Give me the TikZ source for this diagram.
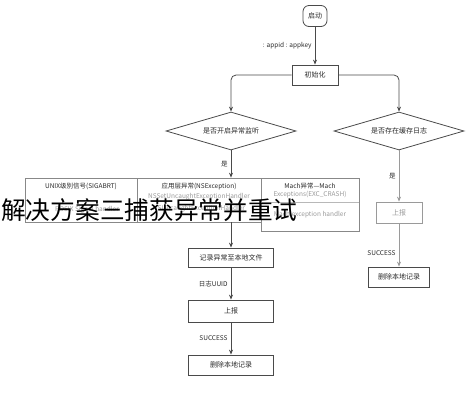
\documentclass[tikz,border=0pt]{standalone}
\usepackage{fontspec}
\setmainfont{Noto Sans CJK SC}
\usetikzlibrary{shapes.geometric,arrows.meta}
\definecolor{lc}{HTML}{4A4A4A}
\definecolor{tc}{HTML}{2A2A2A}
\definecolor{gc}{HTML}{9A9A9A}
\definecolor{sc}{HTML}{888888}
\begin{document}
\begin{tikzpicture}[x=1pt,y=-1pt,
  box/.style={draw=lc, line width=0.8pt, minimum width=85pt, minimum height=20pt, inner sep=1pt, font=\fontsize{7}{8}\selectfont, text=tc},
  dia/.style={diamond, aspect=3.4, draw=lc, line width=0.8pt, minimum width=130pt, minimum height=38pt, inner sep=1pt, font=\fontsize{7}{8}\selectfont, text=tc},
  colbox/.style={draw=sc, line width=0.7pt, inner sep=0pt},
  hd/.style={font=\fontsize{6.5}{7}\selectfont, text=tc, inner sep=0pt},
  sub/.style={font=\fontsize{6.5}{7}\selectfont, text=gc, inner sep=0pt},
  conn/.style={draw=lc, line width=0.8pt, -{Stealth[length=5pt,width=4pt]}},
  gconn/.style={draw=gc, line width=0.8pt, -{Stealth[length=5pt,width=4pt]}},
  elab/.style={font=\fontsize{6.5}{7}\selectfont, text=tc, inner sep=3pt}]
\fill[white] (0,0) rectangle (468,400);
\useasboundingbox (0,0) rectangle (468,400);

\node[box, rounded corners=6pt, minimum width=24pt, minimum height=21pt] (start) at (315,16) {启动};
\node[box, minimum width=46pt, minimum height=20pt] (init) at (315,75) {初始化};
\node[dia] (ldia) at (231,131) {是否开启异常监听};
\node[dia] (rdia) at (399,131) {是否存在缓存日志};

% three capture columns
\node[colbox, minimum width=112pt, minimum height=44pt] (c1) at (81,200) {};
\node[colbox, minimum width=124pt, minimum height=44pt] (c2) at (199,200) {};
\node[colbox, minimum width=98pt, minimum height=53pt] (c3) at (310,204.5) {};
\draw[draw=sc!60, line width=0.5pt] (c3.west |- 0,202) -- (c3.east |- 0,202);
\node[hd] (t1a) at (81,186) {UNIX级别信号(SIGABRT)};
\node[sub] (t1b) at (87,210) {POSIX Signal handler};
\node[hd] (t2a) at (199,186) {应用层异常(NSException)};
\node[sub] (t2b) at (199,197) {NSSetUncaughtExceptionHandler};
\node[sub] (t2c) at (199,209) {NSUncaughtExceptionHandler};
\node[hd] (t3a) at (310,186) {Mach异常—Mach};
\node[sub] (t3b) at (310,195) {Exceptions(EXC\_CRASH)};
\node[sub] (t3c) at (310,215) {Mach exception handler};

\node[box, minimum height=19pt] (rec) at (231,257.5) {记录异常至本地文件};
\node[box, minimum height=22pt] (up1) at (231,311) {上报};
\node[box, minimum height=20pt] (del1) at (231,365) {删除本地记录};
\node[box, draw=gc, text=gc, minimum width=46pt, minimum height=21pt] (up2) at (399,212.5) {上报};
\node[box, minimum width=61pt, minimum height=20pt] (del2) at (399,277) {删除本地记录};

\draw[conn] (start) -- (init) node[elab, midway, left] {: appid : appkey};
\draw[conn, rounded corners=5pt] (init.west) -| (ldia.north);
\draw[conn, rounded corners=5pt] (init.east) -| (rdia.north);
\draw[conn] (ldia.south) -- (ldia.south |- c2.north) node[elab, midway, left] {是};
\draw[conn] (ldia.south |- c2.south) -- (rec.north);
\draw[conn] (rec) -- (up1) node[elab, midway, left] {日志UUID};
\draw[conn] (up1) -- (del1) node[elab, midway, left] {SUCCESS};
\draw[gconn] (rdia.south) -- (up2) node[elab, midway, left] {是};
\draw[gconn] (up2) -- (del2) node[elab, pos=0.68, left] {SUCCESS};

\node[font=\fontsize{24.7}{26}\selectfont, text=black, anchor=west, inner sep=0pt] (cap) at (1,210) {解决方案三捕获异常并重试};
\end{tikzpicture}
\end{document}
